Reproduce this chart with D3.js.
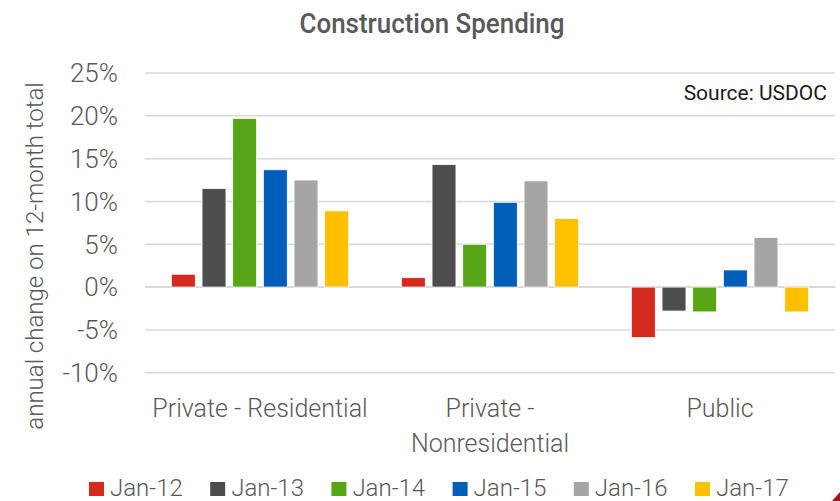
<!DOCTYPE html>
<html>
<head>
<meta charset="utf-8">
<script src="https://cdn.jsdelivr.net/npm/d3@7"></script>
<style>
  body { margin: 0; background: #fff; }
  svg text { font-family: "Liberation Sans Narrow", "Roboto", sans-serif; font-weight: 300; fill: #595959; }
</style>
</head>
<body>
<div id="chart"></div>
<script>
// data
const categories = ["Private - Residential", "Private - Nonresidential", "Public"];
const categoryLines = [["Private - Residential"], ["Private -", "Nonresidential"], ["Public"]];
const series = ["Jan-12", "Jan-13", "Jan-14", "Jan-15", "Jan-16", "Jan-17"];
const colors = ["#d52b1e", "#4d4d4d", "#58a618", "#005eb8", "#a5a5a5", "#ffc000"];
// values in %, one array per category (in series order)
const residential = [1.5, 11.5, 19.7, 13.7, 12.5, 8.9];
const nonresidential = [1.1, 14.3, 5.0, 9.9, 12.4, 8.0];
const publicSpend = [-5.9, -2.8, -2.9, 2.0, 5.8, -2.9];
const yTicks = [-10, -5, 0, 5, 10, 15, 20, 25];

const values = [residential, nonresidential, publicSpend];

const width = 840;
const height = 501;
const margin = { top: 73, right: 5, bottom: 128, left: 145 };

const svg = d3.select("#chart")
    .append("svg")
    .attr("width", width)
    .attr("height", height);

// scales
const y = d3.scaleLinear()
    .domain([-10, 25])
    .range([height - margin.bottom - 0.3, margin.top]);

const x0 = d3.scaleBand()
    .domain(categories)
    .range([margin.left, width - margin.right])
    .padding(0);

const x1 = d3.scaleBand()
    .domain(series)
    .range([23, x0.bandwidth() - 23])
    .paddingInner(0.22)
    .paddingOuter(0.11);

const color = d3.scaleOrdinal().domain(series).range(colors);

// gridlines
svg.append("g")
    .selectAll("line")
    .data(yTicks)
    .join("line")
    .attr("x1", margin.left)
    .attr("x2", width - margin.right)
    .attr("y1", d => y(d))
    .attr("y2", d => y(d))
    .style("stroke", "#d9d9d9")
    .style("stroke-width", d => d === 0 ? 2 : 1.5);

// y tick labels
svg.append("g")
    .selectAll("text")
    .data(yTicks)
    .join("text")
    .attr("x", 118)
    .attr("y", d => y(d))
    .attr("dy", "0.36em")
    .attr("text-anchor", "end")
    .style("font-size", "26px")
    .text(d => d + "%");

// bars
const groups = svg.append("g")
    .selectAll("g")
    .data(categories)
    .join("g")
    .attr("transform", d => `translate(${x0(d)},0)`);

groups.selectAll("rect")
    .data((d, i) => series.map((s, j) => ({ key: s, value: values[i][j] })))
    .join("rect")
    .attr("x", d => x1(d.key))
    .attr("width", x1.bandwidth())
    .attr("y", d => y(Math.max(0, d.value)))
    .attr("height", d => Math.abs(y(d.value) - y(0)))
    .style("fill", d => color(d.key))
    .style("stroke", "#fff")
    .style("stroke-width", 0.8);

// category labels
const catLabels = svg.append("g")
    .selectAll("text")
    .data(categories)
    .join("text")
    .attr("x", d => x0(d) + x0.bandwidth() / 2)
    .attr("y", 417)
    .attr("text-anchor", "middle")
    .style("font-size", "25px");

catLabels.selectAll("tspan")
    .data((d, i) => categoryLines[i])
    .join("tspan")
    .attr("x", function () { return this.parentNode.getAttribute("x"); })
    .attr("dy", (d, i) => i === 0 ? 0 : 35)
    .text(d => d);

// title
svg.append("text")
    .attr("x", 432)
    .attr("y", 33)
    .attr("text-anchor", "middle")
    .attr("textLength", 265)
    .attr("lengthAdjust", "spacingAndGlyphs")
    .style("font-size", "27px")
    .style("font-weight", 500)
    .text("Construction Spending");

// source note
svg.append("text")
    .attr("x", 827)
    .attr("y", 100)
    .attr("text-anchor", "end")
    .style("font-size", "21px")
    .style("font-weight", "normal")
    .style("fill", "#1a1a1a")
    .text("Source: USDOC");

// y axis title
svg.append("text")
    .attr("transform", `translate(43, 256) rotate(-90)`)
    .attr("text-anchor", "middle")
    .style("font-size", "24px")
    .text("annual change on 12-month total");

// legend
const legend = svg.append("g")
    .selectAll("g")
    .data(series)
    .join("g")
    .attr("transform", (d, i) => `translate(${89 + i * 121.2}, 482)`);

legend.append("rect")
    .attr("width", 15)
    .attr("height", 14)
    .style("fill", d => color(d));

legend.append("text")
    .attr("x", 21)
    .attr("y", 14)
    .style("font-size", "24px")
    .text(d => d);

// corner decoration
svg.append("path")
    .attr("d", `M${width - 8},${height} L${width},${height - 9} L${width},${height} Z`)
    .style("fill", "#a3141c");
</script>
</body>
</html>
